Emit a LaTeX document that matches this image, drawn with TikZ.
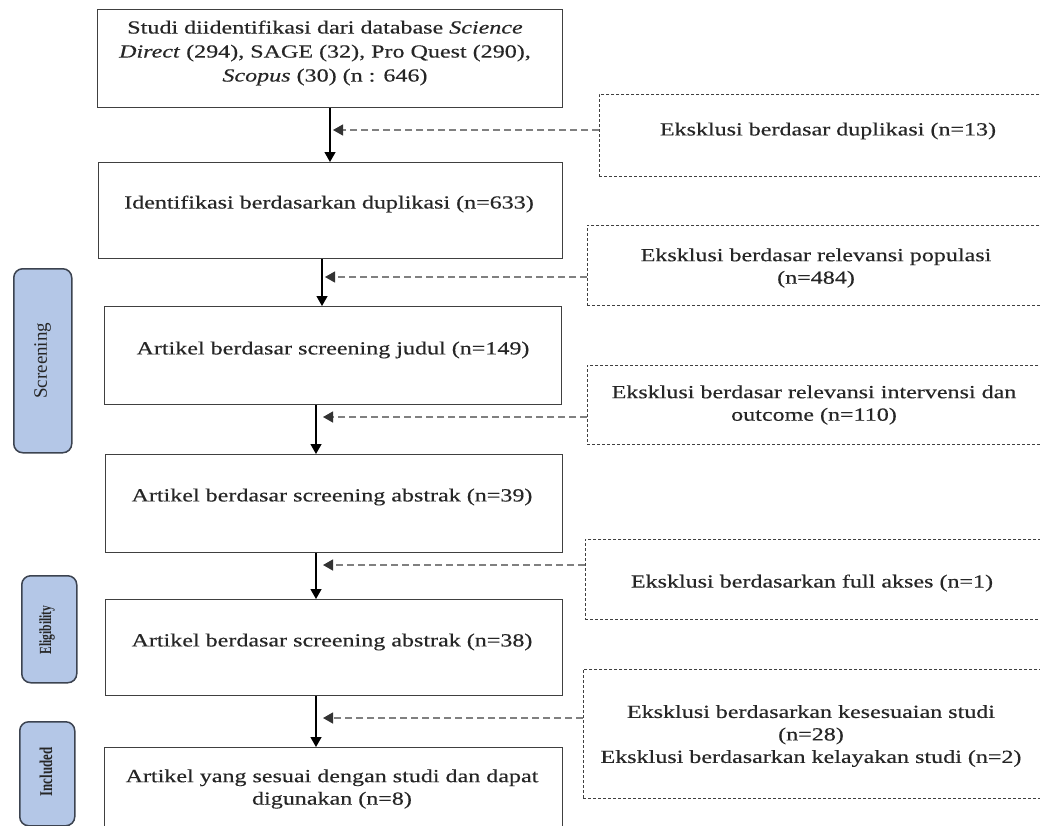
\documentclass[tikz,border=0pt]{standalone}
\usepackage{fontspec}
\setmainfont{Liberation Serif}[FakeStretch=1.3,FakeBold=0.4]
\newfontfamily\lblfont{Liberation Serif}
\usetikzlibrary{arrows.meta,positioning}
\definecolor{phasefill}{HTML}{B4C7E7}
\definecolor{phaseedge}{HTML}{3C4350}
\begin{document}
\begin{tikzpicture}[x=1pt,y=-1pt,
  mainbox/.style={draw=black!75, line width=1.3pt, inner sep=0pt, anchor=north west},
  exbox/.style={draw=black!75, line width=0.8pt, dash pattern=on 3pt off 2pt, inner sep=0pt, anchor=north west},
  phasebox/.style={draw=phaseedge, fill=phasefill, line width=1.5pt, rounded corners=9pt, inner sep=0pt, anchor=north west},
  txt/.style={align=center, text=black!85, inner sep=0pt, font=\fontsize{18.5}{22.5}\selectfont},
  phasetxt/.style={rotate=90, text=black!85, inner sep=0pt},
  mainarrow/.style={draw=black, line width=1.3pt, -{Triangle[length=10pt,width=11pt]}},
  exarrow/.style={draw=black!50, line width=1.3pt, dash pattern=on 7pt off 4pt, -{Triangle[length=10pt,width=11pt,color=black!80]}}
]
\useasboundingbox (0,0) rectangle (1040,825);

% main boxes
\node[mainbox, minimum width=465pt, minimum height=98pt] (b1) at (97,9) {};
\node[mainbox, minimum width=464pt, minimum height=96pt] (b2) at (98,162) {};
\node[mainbox, minimum width=457pt, minimum height=98pt] (b3) at (104,306) {};
\node[mainbox, minimum width=457pt, minimum height=98pt] (b4) at (105,454) {};
\node[mainbox, minimum width=457pt, minimum height=96pt] (b5) at (105,599) {};
\node[mainbox, minimum width=458pt, minimum height=90pt] (b6) at (104,747) {};

% main texts
\node[txt, font=\fontsize{18.5}{24}\selectfont] (t1) at (325,53) {Studi diidentifikasi dari database \textit{Science}\\\textit{Direct} (294), SAGE (32), Pro Quest (290),\\\textit{Scopus} (30) (n : 646)};
\node[txt] (t2) at (329,204) {Identifikasi berdasarkan duplikasi (n=633)};
\node[txt] (t3) at (333,350) {Artikel berdasar screening judul (n=149)};
\node[txt] (t4) at (332,497) {Artikel berdasar screening abstrak (n=39)};
\node[txt] (t5) at (332,642) {Artikel berdasar screening abstrak (n=38)};
\node[txt] (t6) at (332,789) {Artikel yang sesuai dengan studi dan dapat\\digunakan (n=8)};

% exclusion boxes
\node[exbox, minimum width=444pt, minimum height=82pt] (r1) at (599,94) {};
\node[exbox, minimum width=456pt, minimum height=80pt] (r2) at (587,225) {};
\node[exbox, minimum width=456pt, minimum height=79pt] (r3) at (587,365) {};
\node[exbox, minimum width=458pt, minimum height=80pt] (r4) at (585,539) {};
\node[exbox, minimum width=460pt, minimum height=129pt] (r5) at (583,669) {};

\node[txt] (rt1) at (828,131) {Eksklusi berdasar duplikasi (n=13)};
\node[txt] (rt2) at (816,268) {Eksklusi berdasar relevansi populasi\\(n=484)};
\node[txt] (rt3) at (814,405) {Eksklusi berdasar relevansi intervensi dan\\outcome (n=110)};
\node[txt] (rt4) at (812,583) {Eksklusi berdasarkan full akses (n=1)};
\node[txt] (rt5) at (811,736) {Eksklusi berdasarkan kesesuaian studi\\(n=28)\\Eksklusi berdasarkan kelayakan studi (n=2)};

% phase labels
\node[phasebox, minimum width=58pt, minimum height=184pt] (p1) at (13,268) {};
\node[phasebox, minimum width=55pt, minimum height=107pt] (p2) at (21,575) {};
\node[phasebox, minimum width=55pt, minimum height=104pt] (p3) at (19,721) {};
\node[phasetxt, font=\lblfont\fontsize{19}{19}\selectfont] (pt1) at (p1.center) {Screening};
\node[phasetxt, font=\lblfont\bfseries\fontsize{17}{17}\selectfont, xscale=0.68] (pt2) at (47,630) {Eligibility};
\node[phasetxt, font=\lblfont\bfseries\fontsize{18}{18}\selectfont, xscale=0.72] (pt3) at (46,772) {Included};

% arrow columns
\coordinate (x1) at (330,0);
\coordinate (x2) at (322,0);
\coordinate (x3) at (316,0);
% main arrows
\draw[mainarrow] (x1 |- b1.south) -- (x1 |- b2.north);
\draw[mainarrow] (x2 |- b2.south) -- (x2 |- b3.north);
\draw[mainarrow] (x3 |- b3.south) -- (x3 |- b4.north);
\draw[mainarrow] (x3 |- b4.south) -- (x3 |- b5.north);
\draw[mainarrow] (x3 |- b5.south) -- (x3 |- b6.north);

% exclusion arrow tips
\coordinate (d1) at (333,130);
\coordinate (d2) at (325,277);
\coordinate (d3) at (323,417);
\coordinate (d4) at (323,565);
\coordinate (d5) at (323,718);
\draw[exarrow] (r1.west |- d1) -- (d1);
\draw[exarrow] (r2.west |- d2) -- (d2);
\draw[exarrow] (r3.west |- d3) -- (d3);
\draw[exarrow] (r4.west |- d4) -- (d4);
\draw[exarrow] (r5.west |- d5) -- (d5);
\end{tikzpicture}
\end{document}
